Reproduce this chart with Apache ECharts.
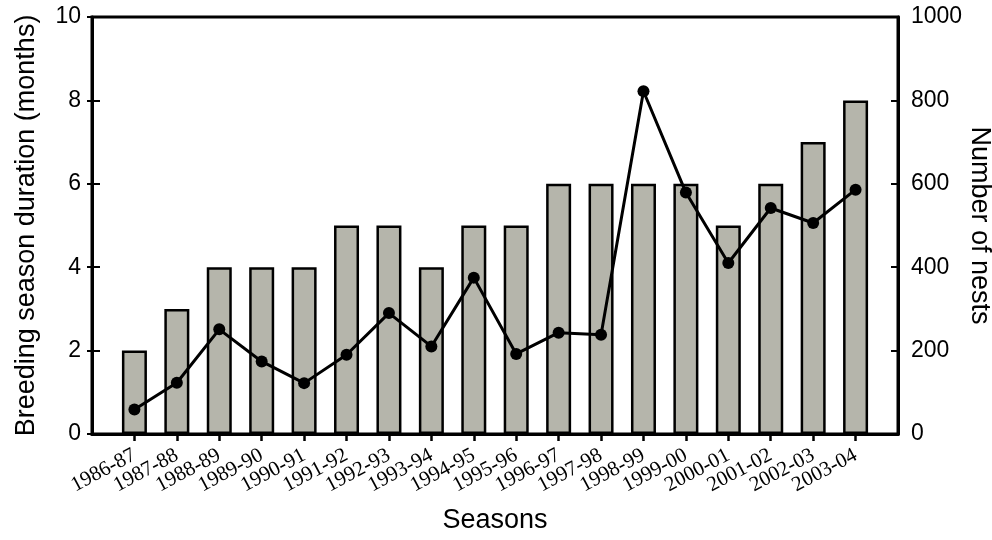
<!DOCTYPE html>
<html>
<head>
<meta charset="utf-8">
<script src="https://cdn.jsdelivr.net/npm/echarts@6/dist/echarts.min.js"></script>
<style>
  html, body { margin: 0; padding: 0; background: #fff; }
  #chart { width: 992px; height: 540px; }
</style>
</head>
<body>
<div id="chart"></div>
<script>
var seasons = ['1986-87', '1987-88', '1988-89', '1989-90', '1990-91', '1991-92', '1992-93', '1993-94', '1994-95',
    '1995-96', '1996-97', '1997-98', '1998-99', '1999-00', '2000-01', '2001-02', '2002-03', '2003-04'];
var durationMonths = [2, 3, 4, 4, 4, 5, 5, 4, 5, 5, 6, 6, 6, 6, 5, 6, 7, 8];
var nests = [59, 123, 251, 174, 122, 190, 290, 210, 375, 192, 243, 238, 822, 579, 410, 542, 506, 586];
var monthTicks = [0, 2, 4, 6, 8, 10];
var nestTicks = [0, 200, 400, 600, 800, 1000];

var chart = echarts.init(document.getElementById('chart'));

var idx = seasons.map(function (s, i) { return i; });
var sans = '"Liberation Sans", Arial, sans-serif';
var plain = function (v) { return String(v); };

var option = {
    animation: false,
    backgroundColor: '#fff',
    grid: {
        left: 92, right: 94, top: 17, bottom: 106,
        outerBoundsMode: 'none',
        show: true, borderColor: '#000', borderWidth: 3
    },
    xAxis: {
        type: 'value',
        min: -1, max: 18, interval: 1,
        name: 'Seasons',
        nameLocation: 'middle',
        nameGap: 73,
        nameMoveOverlap: false,
        nameTextStyle: { fontFamily: sans, fontSize: 27, color: '#000' },
        axisLine: { show: true, onZero: false, lineStyle: { color: '#000', width: 3 } },
        axisTick: { show: true, inside: false, length: 7, customValues: idx, lineStyle: { color: '#000', width: 2.5 } },
        axisLabel: {
            hideOverlap: false,
            rotate: 28,
            margin: 20,
            fontFamily: '"Liberation Serif", "Times New Roman", serif',
            fontSize: 21,
            color: '#000',
            formatter: function (v) { return seasons[v] || ''; }
        },
        splitLine: { show: false }
    },
    yAxis: [{
        type: 'value',
        min: 0, max: 10, interval: 2,
        position: 'left',
        name: 'Breeding season duration (months)',
        nameLocation: 'middle',
        nameGap: 52,
        nameMoveOverlap: false,
        nameTextStyle: { fontFamily: sans, fontSize: 27, color: '#000' },
        axisLine: { show: true, onZero: false, lineStyle: { color: '#000', width: 3 } },
        axisTick: { show: true, inside: true, length: 8, lineStyle: { color: '#000', width: 2 } },
        axisLabel: {
            margin: 11, fontFamily: sans, fontSize: 23, color: '#000',
            customValues: monthTicks, formatter: plain
        },
        splitLine: { show: false }
    }, {
        type: 'value',
        min: 0, max: 1000, interval: 200,
        position: 'right',
        name: 'Number of nests',
        nameLocation: 'middle',
        nameGap: 68,
        nameMoveOverlap: false,
        nameRotate: -90,
        nameTextStyle: { fontFamily: sans, fontSize: 27, color: '#000' },
        axisLine: { show: true, onZero: false, lineStyle: { color: '#000', width: 3 } },
        axisTick: { show: true, inside: true, length: 7, lineStyle: { color: '#000', width: 2 } },
        axisLabel: {
            margin: 13, fontFamily: sans, fontSize: 23, color: '#000',
            customValues: nestTicks, formatter: plain
        },
        splitLine: { show: false }
    }, {
        // short outward ticks on the left axis
        type: 'value',
        min: 0, max: 10, interval: 2,
        position: 'left',
        axisLine: { show: false, onZero: false },
        axisTick: { show: true, inside: false, length: 5, lineStyle: { color: '#000', width: 2 } },
        axisLabel: { show: false },
        splitLine: { show: false }
    }],
    series: [{
        name: 'Breeding season duration',
        type: 'bar',
        yAxisIndex: 0,
        barWidth: 25,
        itemStyle: { color: '#b5b5ab', borderColor: '#000', borderWidth: 2.5 },
        data: durationMonths.map(function (v, i) { return [i, v]; }),
        z: 2
    }, {
        name: 'Number of nests',
        type: 'line',
        yAxisIndex: 1,
        symbol: 'circle',
        symbolSize: 12,
        lineStyle: { color: '#000', width: 3 },
        itemStyle: { color: '#000' },
        data: nests.map(function (v, i) { return [i, v]; }),
        z: 5
    }]
};

chart.setOption(option);
</script>
</body>
</html>
